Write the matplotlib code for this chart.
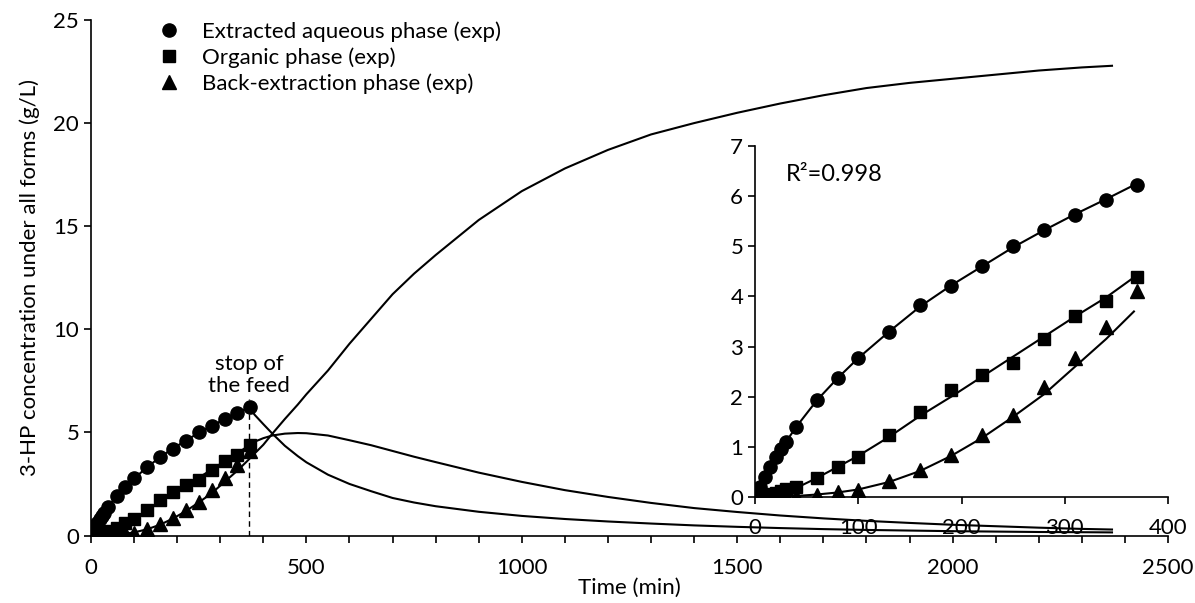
import matplotlib
matplotlib.use("Agg")
import matplotlib.pyplot as plt
from matplotlib.lines import Line2D
from matplotlib.ticker import MultipleLocator

plt.rcParams['font.family'] = ['Lato', 'DejaVu Sans']

# ---- experimental data ----
t_exp = [0, 5, 10, 15, 20, 25, 30, 40, 60, 80, 100, 130, 160, 190, 220, 250, 280, 310, 340, 370]
aq_exp = [0.02, 0.2, 0.4, 0.6, 0.8, 0.95, 1.1, 1.4, 1.93, 2.37, 2.77, 3.30, 3.83, 4.21, 4.60, 5.00, 5.33, 5.63, 5.93, 6.22]
org_exp = [0.0, 0.02, 0.04, 0.06, 0.08, 0.12, 0.15, 0.2, 0.37, 0.6, 0.8, 1.24, 1.70, 2.13, 2.43, 2.67, 3.16, 3.60, 3.90, 4.39]
back_exp = [0.0, 0.0, 0.0, 0.0, 0.0, 0.01, 0.01, 0.02, 0.04, 0.1, 0.14, 0.31, 0.54, 0.84, 1.24, 1.64, 2.20, 2.77, 3.40, 4.10]

# ---- model curves ----
t_mod = [0, 10, 20, 30, 40, 60, 80, 100, 130, 160, 190, 220, 250, 280, 310, 340, 367,
         380, 400, 421, 450, 480, 500, 550, 600, 650, 700, 750, 800, 900, 1000, 1100,
         1200, 1300, 1400, 1500, 1600, 1700, 1800, 1900, 2000, 2100, 2200, 2300, 2370]
aq_mod = [0, 0.4, 0.78, 1.1, 1.4, 1.93, 2.37, 2.77, 3.3, 3.8, 4.22, 4.6, 4.98, 5.32, 5.64, 5.94, 6.22,
          5.85, 5.4, 4.94, 4.35, 3.85, 3.55, 2.95, 2.5, 2.15, 1.82, 1.6, 1.42, 1.15, 0.95, 0.8,
          0.68, 0.58, 0.49, 0.42, 0.36, 0.31, 0.27, 0.24, 0.21, 0.19, 0.17, 0.16, 0.15]
org_mod = [0, 0.01, 0.04, 0.1, 0.18, 0.38, 0.6, 0.82, 1.2, 1.62, 2.0, 2.4, 2.8, 3.2, 3.6, 3.98, 4.38,
           4.55, 4.72, 4.85, 4.94, 4.97, 4.96, 4.85, 4.62, 4.38, 4.1, 3.82, 3.56, 3.05, 2.6, 2.2,
           1.87, 1.58, 1.33, 1.14, 0.97, 0.83, 0.71, 0.61, 0.52, 0.45, 0.38, 0.32, 0.29]
back_mod = [0, 0, 0, 0.01, 0.02, 0.05, 0.09, 0.15, 0.3, 0.52, 0.82, 1.18, 1.6, 2.05, 2.6, 3.15, 3.7,
            3.98, 4.4, 4.94, 5.65, 6.35, 6.85, 8.0, 9.3, 10.5, 11.7, 12.7, 13.6, 15.3, 16.7, 17.8,
            18.7, 19.45, 20.0, 20.5, 20.95, 21.35, 21.7, 21.95, 22.15, 22.35, 22.55, 22.7, 22.78]

t_stop = 367
labels = ["Extracted aqueous phase (exp)", "Organic phase (exp)", "Back-extraction phase (exp)"]

W, H = 1195, 603
fig = plt.figure(figsize=(W / 100, H / 100), dpi=100)


def rect(x0, y_top, x1, y_bot):
    return [x0 / W, 1 - y_bot / H, (x1 - x0) / W, (y_bot - y_top) / H]


ax = fig.add_axes(rect(91, 20, 1168, 535.5))

FS = 16
lw = 1.5
for y in (aq_mod, org_mod, back_mod):
    ax.plot(t_mod, y, color='black', lw=lw, zorder=2)
ax.plot(t_exp, aq_exp, 'o', color='black', ms=9.5, zorder=3)
ax.plot(t_exp, org_exp, 's', color='black', ms=8.5, zorder=3)
ax.plot(t_exp, back_exp, '^', color='black', ms=9.5, zorder=3)
ax.plot([t_stop, t_stop], [0, 6.6], color='black', lw=1.0, ls=(0, (4, 3)), zorder=1)
ax.text(t_stop, 6.75, "stop of\nthe feed", ha='center', va='bottom', fontsize=FS, linespacing=1.15)

ax.set_xlim(0, 2500)
ax.set_ylim(0, 25)
ax.xaxis.set_major_locator(MultipleLocator(500))
ax.xaxis.set_minor_locator(MultipleLocator(100))
ax.yaxis.set_major_locator(MultipleLocator(5))
for s in ('top', 'right'):
    ax.spines[s].set_visible(False)
for s in ('left', 'bottom'):
    ax.spines[s].set_linewidth(1.2)
ax.tick_params(axis='both', which='both', direction='out', length=5, width=1.2, labelsize=FS)
ax.tick_params(axis='x', pad=11)
ax.set_xlabel("Time (min)", fontsize=FS, labelpad=0)
ax.set_ylabel("3-HP concentration under all forms (g/L)", fontsize=FS, labelpad=10)

handles = [Line2D([], [], ls='none', marker='o', color='black', ms=9.5),
           Line2D([], [], ls='none', marker='s', color='black', ms=8.5),
           Line2D([], [], ls='none', marker='^', color='black', ms=9.5)]
fig.legend(handles, labels, loc='upper left', bbox_to_anchor=(158 / W, 1 - 21 / H), frameon=False,
           fontsize=FS, handlelength=1.0, handletextpad=1.0, labelspacing=0.25,
           borderpad=0, borderaxespad=0)

# ---- inset ----
ins = fig.add_axes(rect(755, 146, 1168, 497))
ins.patch.set_alpha(0)
t_in = [t for t in t_mod if t <= t_stop]
n = len(t_in)
for y in (aq_mod, org_mod, back_mod):
    ins.plot(t_in, y[:n], color='black', lw=lw, zorder=2)
ins.plot(t_exp, aq_exp, 'o', color='black', ms=9.5, zorder=3)
ins.plot(t_exp, org_exp, 's', color='black', ms=8.5, zorder=3)
ins.plot(t_exp, back_exp, '^', color='black', ms=9.5, zorder=3)
ins.set_xlim(0, 400)
ins.set_ylim(0, 7)
ins.xaxis.set_major_locator(MultipleLocator(100))
ins.yaxis.set_major_locator(MultipleLocator(1))
for s in ('top', 'right'):
    ins.spines[s].set_visible(False)
for s in ('left', 'bottom'):
    ins.spines[s].set_linewidth(1.2)
ins.tick_params(axis='both', which='both', direction='out', length=5, width=1.2, labelsize=FS)
ins.tick_params(axis='x', pad=10)
ins.text(0.075, 0.95, "R²=0.998", transform=ins.transAxes, fontsize=FS + 1, ha='left', va='top')

fig.savefig("out.png", dpi=100)
